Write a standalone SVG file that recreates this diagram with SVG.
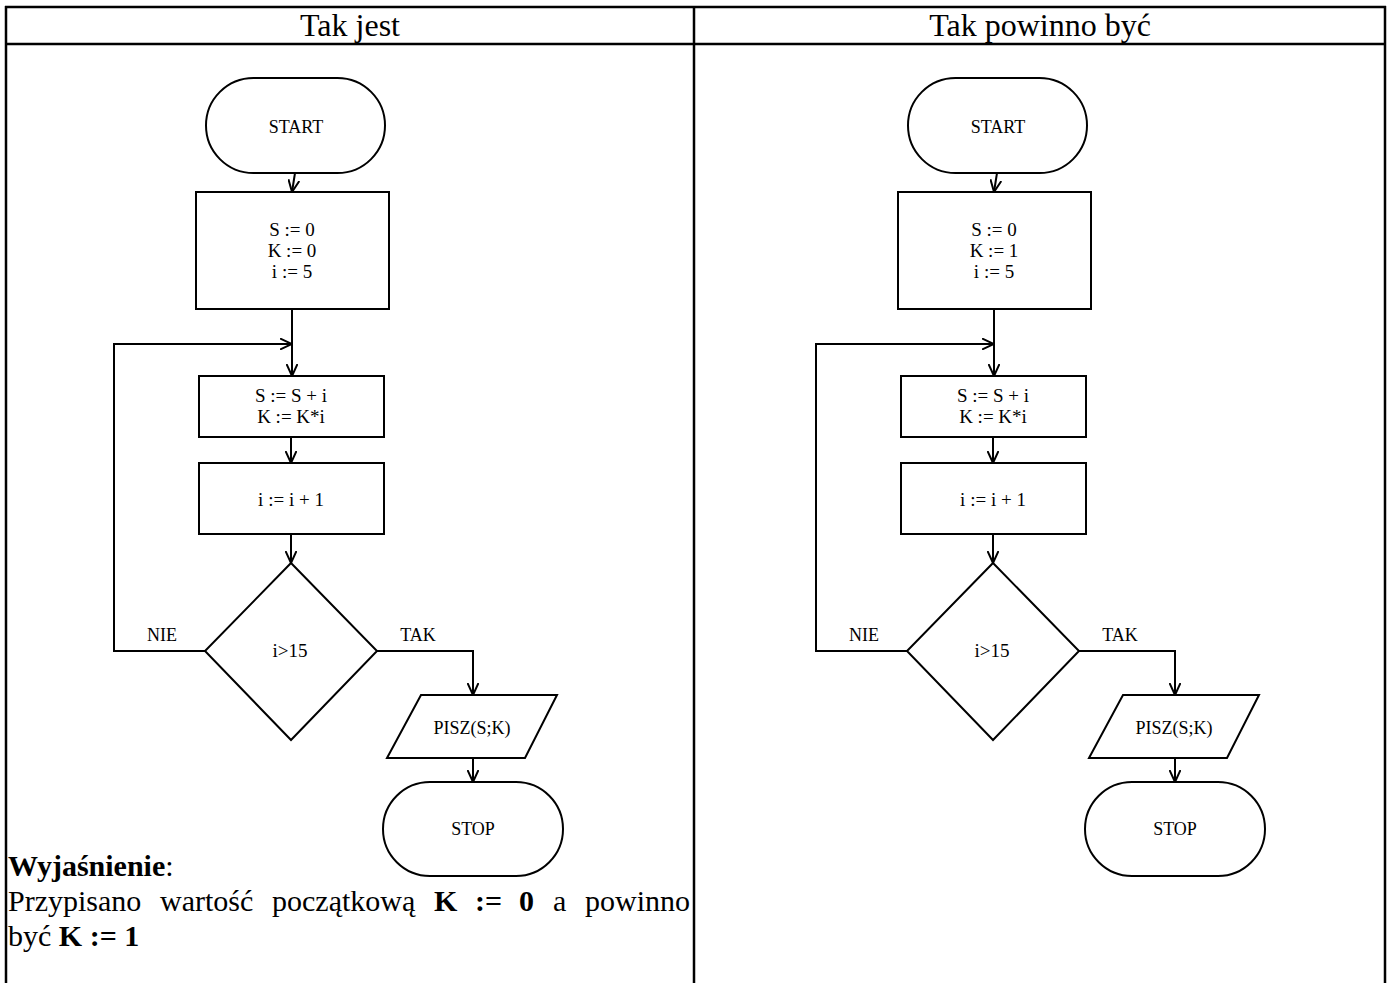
<svg xmlns="http://www.w3.org/2000/svg" width="1389" height="983" viewBox="0 0 1389 983">
  <style>
    .grid { stroke: #000; stroke-width: 2.5; fill: none; }
    .shape { stroke: #000; stroke-width: 2; fill: #fff; }
    .conn { stroke: #000; stroke-width: 2; fill: none; }
    .lbl { font-family: "Liberation Serif", "Times New Roman", serif; font-size: 18px; text-anchor: middle; fill: #000; }
    .op { font-family: "Liberation Serif", "Times New Roman", serif; font-size: 19px; text-anchor: middle; fill: #000; }
    .head { font-family: "Liberation Serif", "Times New Roman", serif; font-size: 32px; text-anchor: middle; fill: #000; }
    .note { font-family: "Liberation Serif", "Times New Roman", serif; font-size: 30px; fill: #000; }
    .b { font-weight: bold; }
  </style>
  <defs>
    <marker id="arrow" viewBox="0 0 12 12" refX="12" refY="6" markerWidth="12" markerHeight="12" markerUnits="userSpaceOnUse" orient="auto">
      <path d="M0,0.5 L12,6 L0,11.5" fill="none" stroke="#000" stroke-width="2"/>
    </marker>
  </defs>

  <!-- table frame -->
  <g id="table">
    <rect x="0" y="0" width="1389" height="983" fill="#fff"/>
    <line class="grid" x1="5" y1="7" x2="1386" y2="7"/>
    <line class="grid" x1="5" y1="44" x2="1386" y2="44"/>
    <line class="grid" x1="6" y1="6" x2="6" y2="983"/>
    <line class="grid" x1="694" y1="6" x2="694" y2="983"/>
    <line class="grid" x1="1385" y1="6" x2="1385" y2="983"/>
    <text class="head" x="350" y="36">Tak jest</text>
    <text class="head" x="1040" y="36">Tak powinno być</text>
  </g>

  <!-- left flowchart -->
  <g id="left-connectors">
    <path class="conn" d="M295,173 L292,192" marker-end="url(#arrow)"/>
    <path class="conn" d="M292,309 L292,376" marker-end="url(#arrow)"/>
    <path class="conn" d="M291,437 L291,463" marker-end="url(#arrow)"/>
    <path class="conn" d="M291,534 L291,563" marker-end="url(#arrow)"/>
    <path class="conn" d="M205,651 L114,651 L114,344 L292,344" marker-end="url(#arrow)"/>
    <path class="conn" d="M377,651 L473,651 L473,695" marker-end="url(#arrow)"/>
    <path class="conn" d="M473,758 L473,782" marker-end="url(#arrow)"/>
  </g>
  <g id="left-start">
    <rect class="shape" x="206" y="78" width="179" height="95" rx="47.5"/>
    <text class="lbl" x="296" y="133">START</text>
  </g>
  <g id="left-init">
    <rect class="shape" x="196" y="192" width="193" height="117"/>
    <text class="op" x="292" y="236">S := 0</text>
    <text class="op" x="292" y="257">K := 0</text>
    <text class="op" x="292" y="278">i := 5</text>
  </g>
  <g id="left-body">
    <rect class="shape" x="199" y="376" width="185" height="61"/>
    <text class="op" x="291" y="402">S := S + i</text>
    <text class="op" x="291" y="423">K := K*i</text>
  </g>
  <g id="left-inc">
    <rect class="shape" x="199" y="463" width="185" height="71"/>
    <text class="op" x="291" y="506">i := i + 1</text>
  </g>
  <g id="left-cond">
    <polygon class="shape" points="291,563 377,651 291,740 205,651"/>
    <text class="op" x="290" y="657">i&gt;15</text>
    <text class="lbl" x="162" y="641">NIE</text>
    <text class="lbl" x="418" y="641">TAK</text>
  </g>
  <g id="left-print">
    <polygon class="shape" points="421,695 557,695 525,758 387,758"/>
    <text class="lbl" x="472" y="734">PISZ(S;K)</text>
  </g>
  <g id="left-stop">
    <rect class="shape" x="383" y="782" width="180" height="94" rx="47"/>
    <text class="lbl" x="473" y="835">STOP</text>
  </g>

  <!-- explanation under the left flowchart (justified line set word by word) -->
  <g id="note">
    <text class="note b" x="8" y="876">Wyjaśnienie<tspan font-weight="normal">:</tspan></text>
    <text class="note" y="911"><tspan x="8">Przypisano</tspan><tspan x="160">wartość</tspan><tspan x="272">początkową</tspan><tspan x="434" class="b">K</tspan><tspan x="475" class="b">:=</tspan><tspan x="519" class="b">0</tspan><tspan x="553">a</tspan><tspan x="585">powinno</tspan></text>
    <text class="note" y="946"><tspan x="8">być</tspan><tspan class="b"> K := 1</tspan></text>
  </g>

  <!-- right flowchart -->
  <g transform="translate(702,0)">
    <g id="right-connectors">
      <path class="conn" d="M295,173 L292,192" marker-end="url(#arrow)"/>
      <path class="conn" d="M292,309 L292,376" marker-end="url(#arrow)"/>
      <path class="conn" d="M291,437 L291,463" marker-end="url(#arrow)"/>
      <path class="conn" d="M291,534 L291,563" marker-end="url(#arrow)"/>
      <path class="conn" d="M205,651 L114,651 L114,344 L292,344" marker-end="url(#arrow)"/>
      <path class="conn" d="M377,651 L473,651 L473,695" marker-end="url(#arrow)"/>
      <path class="conn" d="M473,758 L473,782" marker-end="url(#arrow)"/>
    </g>
    <g id="right-start">
      <rect class="shape" x="206" y="78" width="179" height="95" rx="47.5"/>
      <text class="lbl" x="296" y="133">START</text>
    </g>
    <g id="right-init">
      <rect class="shape" x="196" y="192" width="193" height="117"/>
      <text class="op" x="292" y="236">S := 0</text>
      <text class="op" x="292" y="257">K := 1</text>
      <text class="op" x="292" y="278">i := 5</text>
    </g>
    <g id="right-body">
      <rect class="shape" x="199" y="376" width="185" height="61"/>
      <text class="op" x="291" y="402">S := S + i</text>
      <text class="op" x="291" y="423">K := K*i</text>
    </g>
    <g id="right-inc">
      <rect class="shape" x="199" y="463" width="185" height="71"/>
      <text class="op" x="291" y="506">i := i + 1</text>
    </g>
    <g id="right-cond">
      <polygon class="shape" points="291,563 377,651 291,740 205,651"/>
      <text class="op" x="290" y="657">i&gt;15</text>
      <text class="lbl" x="162" y="641">NIE</text>
      <text class="lbl" x="418" y="641">TAK</text>
    </g>
    <g id="right-print">
      <polygon class="shape" points="421,695 557,695 525,758 387,758"/>
      <text class="lbl" x="472" y="734">PISZ(S;K)</text>
    </g>
    <g id="right-stop">
      <rect class="shape" x="383" y="782" width="180" height="94" rx="47"/>
      <text class="lbl" x="473" y="835">STOP</text>
    </g>
  </g>
</svg>
